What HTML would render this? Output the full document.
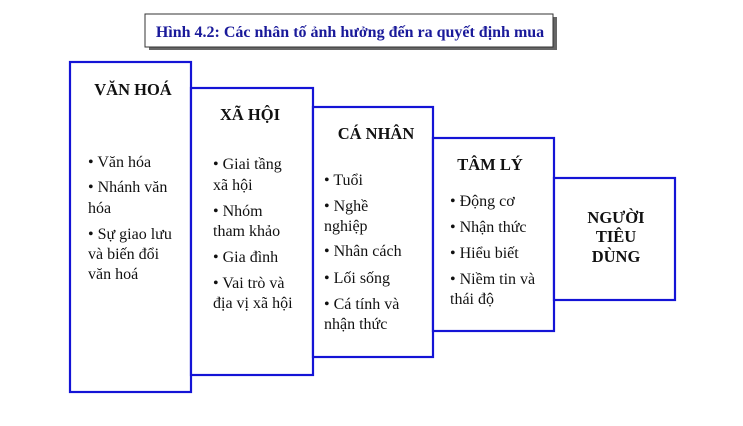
<!DOCTYPE html>
<html><head><meta charset="utf-8"><style>
html,body{margin:0;padding:0;background:#fff;}
svg text{font-family:"Liberation Serif",serif;font-size:16px;fill:#111;}
.h{font-weight:bold;font-size:16.5px;}
</style></head><body>
<svg width="743" height="421" viewBox="0 0 743 421" xmlns="http://www.w3.org/2000/svg">
<rect x="149" y="17" width="408" height="33" fill="#666"/>
<rect x="145" y="14" width="408" height="33" fill="#fff" stroke="#333" stroke-width="1"/>
<text x="350" y="37" text-anchor="middle" style="font-weight:bold;font-size:16px;fill:#1a1a9a">Hình 4.2: Các nhân tố ảnh hưởng đến ra quyết định mua</text>
<g fill="#fff" stroke="#1414d6" stroke-width="2.2">
<rect x="70" y="62" width="121" height="330"/>
<rect x="191" y="88" width="122" height="287"/>
<rect x="313" y="107" width="120" height="250"/>
<rect x="433" y="138" width="121" height="193"/>
<rect x="554" y="178" width="121" height="122"/>
</g>
<text class="h" x="133" y="95" text-anchor="middle">VĂN HOÁ</text>
<text x="88" y="167">• Văn hóa</text>
<text x="88" y="192">• Nhánh văn</text>
<text x="88" y="213">hóa</text>
<text x="88" y="239">• Sự giao lưu</text>
<text x="88" y="259">và biến đổi</text>
<text x="88" y="279">văn hoá</text>
<text class="h" x="250" y="120" text-anchor="middle">XÃ HỘI</text>
<text x="213" y="169">• Giai tầng</text>
<text x="213" y="190">xã hội</text>
<text x="213" y="216">• Nhóm</text>
<text x="213" y="236">tham khảo</text>
<text x="213" y="262">• Gia đình</text>
<text x="213" y="288">• Vai trò và</text>
<text x="213" y="308">địa vị xã hội</text>
<text class="h" x="376" y="139" text-anchor="middle">CÁ NHÂN</text>
<text x="324" y="185">• Tuổi</text>
<text x="324" y="211">• Nghề</text>
<text x="324" y="231">nghiệp</text>
<text x="324" y="256">• Nhân cách</text>
<text x="324" y="283">• Lối sống</text>
<text x="324" y="309">• Cá tính và</text>
<text x="324" y="329">nhận thức</text>
<text class="h" x="490" y="170" text-anchor="middle">TÂM LÝ</text>
<text x="450" y="206">• Động cơ</text>
<text x="450" y="232">• Nhận thức</text>
<text x="450" y="258">• Hiểu biết</text>
<text x="450" y="284">• Niềm tin và</text>
<text x="450" y="304">thái độ</text>
<text class="h" x="616" y="223" text-anchor="middle">NGƯỜI</text>
<text class="h" x="616" y="242" text-anchor="middle">TIÊU</text>
<text class="h" x="616" y="262" text-anchor="middle">DÙNG</text>
</svg>
</body></html>
